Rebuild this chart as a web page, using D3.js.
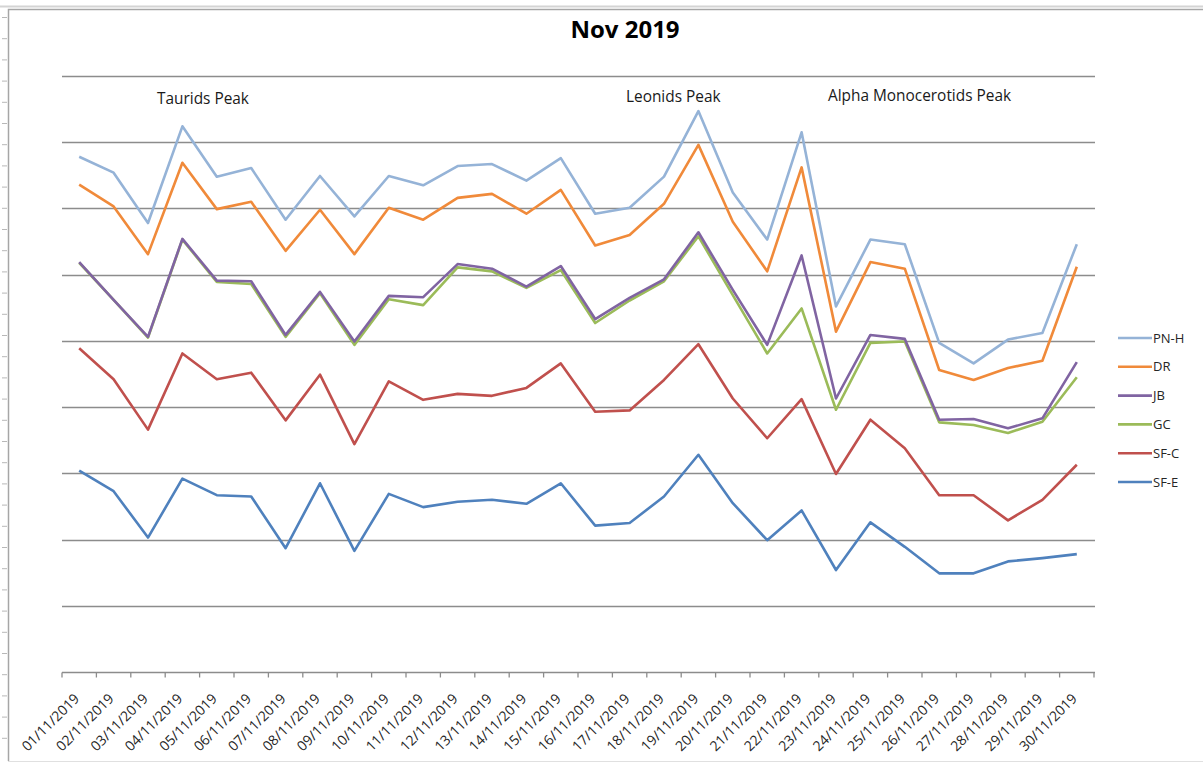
<!DOCTYPE html>
<html>
<head>
<meta charset="utf-8">
<script src="https://cdn.jsdelivr.net/npm/d3@7"></script>
<style>
  body { margin: 0; background: #fff; }
  svg { display: block; font-family: "Open Sans", Calibri, sans-serif; }
</style>
</head>
<body>
<svg width="1203" height="763"></svg>
<script>
// days of Nov 2019
var dates = d3.range(1, 31).map(function(d) {
    return (d < 10 ? "0" + d : "" + d) + "/11/2019";
});

var seriesNames = ["PN-H", "DR", "JB", "GC", "SF-C", "SF-E"];
var seriesColors = ["#95B3D7", "#F08A3A", "#8064A2", "#9BBB59", "#C0504D", "#4F81BD"];

var pnh = [77.8, 75.4, 67.8, 82.4, 74.8, 76.1, 68.3, 74.9, 68.8, 74.9, 73.5, 76.4, 76.7, 74.2, 77.6,
    69.2, 70.1, 74.8, 84.7, 72.4, 65.3, 81.5, 55.2, 65.3, 64.6, 49.7, 46.6, 50.2, 51.2, 64.6];
var dr = [73.6, 70.3, 63.1, 76.9, 69.9, 71.0, 63.6, 69.8, 63.1, 70.1, 68.3, 71.6, 72.2, 69.2, 72.8,
    64.4, 66.0, 70.7, 79.6, 68.0, 60.5, 76.2, 51.4, 61.9, 60.9, 45.6, 44.1, 45.9, 47.0, 61.2];
var jb = [61.9, 56.2, 50.6, 65.4, 59.1, 59.0, 50.9, 57.4, 49.9, 56.8, 56.6, 61.6, 60.9, 58.2, 61.3,
    53.3, 56.5, 59.3, 66.4, 57.7, 49.4, 62.9, 41.3, 50.9, 50.3, 38.1, 38.2, 36.8, 38.3, 46.8];
var gc = [61.8, 56.2, 50.5, 65.3, 58.9, 58.6, 50.6, 57.2, 49.4, 56.3, 55.4, 61.1, 60.5, 58.0, 60.7,
    52.7, 56.1, 59.0, 65.8, 56.9, 48.1, 54.9, 39.6, 49.7, 49.9, 37.7, 37.3, 36.1, 37.8, 44.5];
var sfc = [48.9, 44.2, 36.6, 48.1, 44.2, 45.2, 38.0, 44.9, 34.4, 43.9, 41.1, 42.0, 41.7, 42.9, 46.6,
    39.3, 39.5, 44.1, 49.5, 41.3, 35.3, 41.2, 29.9, 38.1, 33.8, 26.7, 26.7, 22.9, 26.0, 31.3];
var sfe = [30.4, 27.3, 20.3, 29.2, 26.7, 26.5, 18.7, 28.5, 18.3, 26.9, 24.9, 25.7, 26.0, 25.4, 28.5,
    22.1, 22.5, 26.5, 32.8, 25.5, 19.9, 24.4, 15.4, 22.6, 18.9, 14.9, 14.9, 16.7, 17.2, 17.8];

var gridTicks = [10, 20, 30, 40, 50, 60, 70, 80, 90];

var peaks = [
    { label: "Taurids Peak", x: 157, y: 104 },
    { label: "Leonids Peak", x: 626, y: 102 },
    { label: "Alpha Monocerotids Peak", x: 828, y: 101 }
];

var svg = d3.select("svg");

// page frame + ruler like the excel sheet
svg.append("line").attr("x1", 0).attr("x2", 1203).attr("y1", 6.5).attr("y2", 6.5)
    .attr("stroke", "#d4d4d4").attr("stroke-width", 2);
svg.append("path")
    .attr("d", "M8.5,761 V9.5 H1203")
    .attr("fill", "none").attr("stroke", "#a6a6a6").attr("stroke-width", 1.5);
svg.append("line").attr("x1", 8).attr("x2", 1203).attr("y1", 761.5).attr("y2", 761.5)
    .attr("stroke", "#e0e0e0");
svg.append("g").selectAll("line")
    .data(d3.range(0, 35))
    .enter().append("line")
    .attr("x1", 2).attr("x2", 7)
    .attr("y1", function(d) { return 17.5 + d * 21.2; })
    .attr("y2", function(d) { return 17.5 + d * 21.2; })
    .attr("stroke", "#b8b8b8");

var x = d3.scaleBand().domain(dates).range([62, 1094]);
var y = d3.scaleLinear().domain([0, 90]).range([672, 76]);

// gridlines
svg.append("g")
    .selectAll("line")
    .data(gridTicks)
    .enter().append("line")
    .attr("x1", 62).attr("x2", 1095)
    .attr("y1", function(d) { return Math.round(y(d)) + 0.5; })
    .attr("y2", function(d) { return Math.round(y(d)) + 0.5; })
    .attr("stroke", "#8c8c8c")
    .attr("stroke-width", 1.3);

// x axis
var axis = svg.append("g").attr("transform", "translate(0," + (Math.round(y(0)) + 0.5) + ")");
axis.append("line").attr("x1", 62).attr("x2", 1095)
    .attr("stroke", "#8c8c8c").attr("stroke-width", 1.3);
axis.selectAll(".tk")
    .data(dates.concat(["end"]))
    .enter().append("line")
    .attr("x1", function(d) { return d == "end" ? 1094 : x(d); })
    .attr("x2", function(d) { return d == "end" ? 1094 : x(d); })
    .attr("y1", 0).attr("y2", 5)
    .attr("stroke", "#8c8c8c").attr("stroke-width", 1.3);
axis.selectAll("text")
    .data(dates)
    .enter().append("text")
    .attr("transform", function(d) {
        return "translate(" + (x(d) + x.bandwidth() / 2 + 1) + ",27) rotate(-45)";
    })
    .attr("text-anchor", "end")
    .style("font-size", "14px")
    .style("fill", "#262626")
    .text(function(d) { return d; });

// series lines
var allSeries = [pnh, dr, gc, jb, sfc, sfe];
var drawColors = [seriesColors[0], seriesColors[1], seriesColors[3], seriesColors[2], seriesColors[4], seriesColors[5]];
var line = d3.line()
    .x(function(d, i) { return x(dates[i]) + x.bandwidth() / 2; })
    .y(function(d) { return y(d); });

svg.append("g")
    .selectAll("path")
    .data(allSeries)
    .enter().append("path")
    .attr("d", line)
    .attr("fill", "none")
    .attr("stroke", function(d, i) { return drawColors[i]; })
    .attr("stroke-width", 2.6)
    .attr("stroke-linejoin", "round");

// title
svg.append("text")
    .attr("x", 625).attr("y", 38)
    .attr("text-anchor", "middle")
    .style("font-size", "24px")
    .style("font-weight", "bold")
    .style("fill", "#000")
    .text("Nov 2019");

// peak notes
svg.append("g").selectAll("text")
    .data(peaks)
    .enter().append("text")
    .attr("x", function(d) { return d.x; })
    .attr("y", function(d) { return d.y; })
    .style("font-size", "15.4px")
    .style("fill", "#1a1a1a")
    .text(function(d) { return d.label; });

// legend
var legend = svg.append("g").selectAll("g")
    .data(seriesNames)
    .enter().append("g")
    .attr("transform", function(d, i) { return "translate(1118," + (338 + i * 28.8) + ")"; });
legend.append("line")
    .attr("x1", 0).attr("x2", 34)
    .attr("stroke", function(d, i) { return seriesColors[i]; })
    .attr("stroke-width", 2.6);
legend.append("text")
    .attr("x", 35).attr("dy", "0.35em")
    .style("font-size", "13px")
    .style("fill", "#262626")
    .text(function(d) { return d; });
</script>
</body>
</html>
